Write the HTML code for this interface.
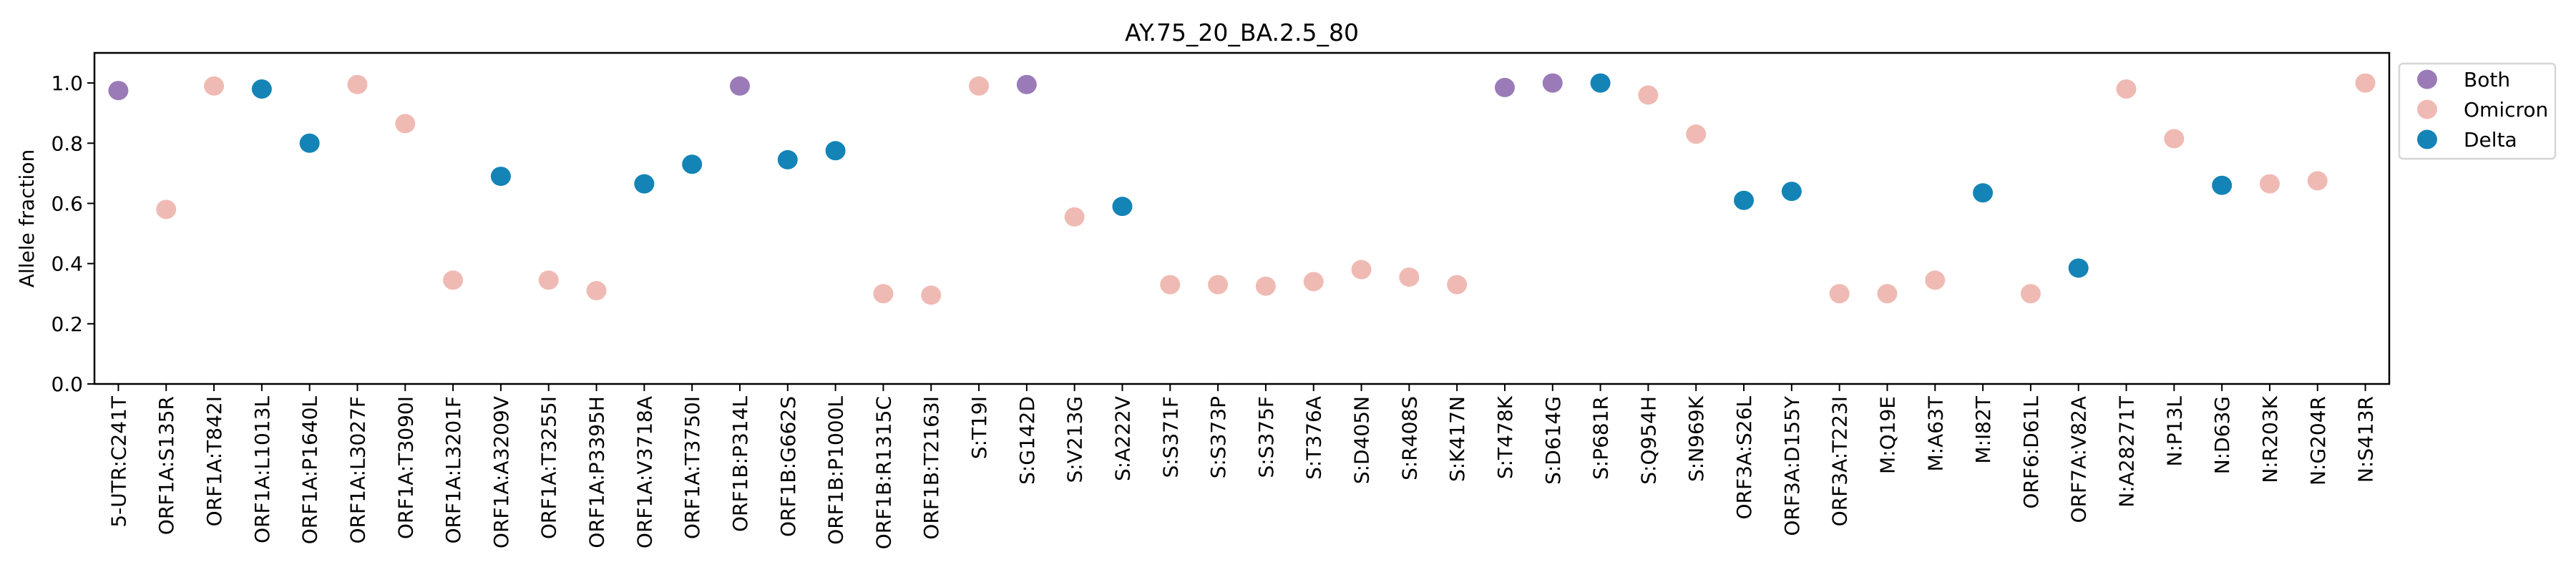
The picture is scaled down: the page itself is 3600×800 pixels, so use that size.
<!DOCTYPE html>
<html><head><meta charset="utf-8">
<style>html,body{margin:0;padding:0;background:#fff;}svg{display:block;font-family:"DejaVu Sans","Liberation Sans",sans-serif;}</style>
</head><body>
<svg id="chart" width="3600" height="800" viewBox="0 0 3600 800" xmlns="http://www.w3.org/2000/svg"></svg>
<script>
const categories = ["5-UTR:C241T","ORF1A:S135R","ORF1A:T842I","ORF1A:L1013L","ORF1A:P1640L","ORF1A:L3027F","ORF1A:T3090I","ORF1A:L3201F","ORF1A:A3209V","ORF1A:T3255I","ORF1A:P3395H","ORF1A:V3718A","ORF1A:T3750I","ORF1B:P314L","ORF1B:G662S","ORF1B:P1000L","ORF1B:R1315C","ORF1B:T2163I","S:T19I","S:G142D","S:V213G","S:A222V","S:S371F","S:S373P","S:S375F","S:T376A","S:D405N","S:R408S","S:K417N","S:T478K","S:D614G","S:P681R","S:Q954H","S:N969K","ORF3A:S26L","ORF3A:D155Y","ORF3A:T223I","M:Q19E","M:A63T","M:I82T","ORF6:D61L","ORF7A:V82A","N:A28271T","N:P13L","N:D63G","N:R203K","N:G204R","N:S413R"];
const values = [0.975,0.58,0.99,0.98,0.80,0.995,0.865,0.345,0.69,0.345,0.31,0.665,0.73,0.99,0.745,0.775,0.30,0.295,0.99,0.995,0.555,0.59,0.33,0.33,0.325,0.34,0.38,0.355,0.33,0.985,1.0,1.0,0.96,0.83,0.61,0.64,0.30,0.30,0.345,0.635,0.30,0.385,0.98,0.815,0.66,0.665,0.675,1.0];
const groups = ["Both","Omicron","Omicron","Delta","Delta","Omicron","Omicron","Omicron","Delta","Omicron","Omicron","Delta","Delta","Both","Delta","Delta","Omicron","Omicron","Omicron","Both","Omicron","Delta","Omicron","Omicron","Omicron","Omicron","Omicron","Omicron","Omicron","Both","Both","Delta","Omicron","Omicron","Delta","Delta","Omicron","Omicron","Omicron","Delta","Omicron","Delta","Omicron","Omicron","Delta","Omicron","Omicron","Omicron"];
const yTicks = [0.0,0.2,0.4,0.6,0.8,1.0];
const legendLabels = ["Both","Omicron","Delta"];

const colors = {Both:"#9a7bb8",Omicron:"#f0bab4",Delta:"#1484b6"};
const L=132,R=3339,T=74,B=537;
const xs = i => L + (i+0.5)/categories.length*(R-L);
const ys = v => B - v/1.1*(B-T);
const svg=document.getElementById('chart');
const NS="http://www.w3.org/2000/svg";
function mk(tag,attrs,parent){const e=document.createElementNS(NS,tag);for(const k in attrs)e.setAttribute(k,attrs[k]);(parent||svg).appendChild(e);return e;}

const title=mk('text',{x:(L+R)/2,y:57,'text-anchor':'middle','font-size':33});


title.textContent="AY.75_20_BA.2.5_80";

const yt=mk('text',{x:0,y:0,'text-anchor':'middle','font-size':28,transform:`translate(47,${(T+B)/2}) rotate(-90)`});


yt.textContent="Allele fraction";

const yg=mk('g',{});


yTicks.forEach(v=>{
  mk('line',{x1:L-10,x2:L,y1:ys(v),y2:ys(v),stroke:'#000','stroke-width':2},yg);
  const t=mk('text',{x:L-16,y:ys(v)+10,'text-anchor':'end','font-size':28},yg);
  
  
  t.textContent=v.toFixed(1);
});

const xg=mk('g',{});


categories.forEach((c,i)=>{
  const x=xs(i);
  mk('line',{x1:x,x2:x,y1:B,y2:B+10,stroke:'#000','stroke-width':2},xg);
  const t=mk('text',{x:0,y:0,'text-anchor':'end','font-size':28,transform:`translate(${x+10},${B+17}) rotate(-90)`},xg);
  
  
  t.textContent=c;
});

const pg=mk('g',{});


values.forEach((v,i)=>{
  const c=mk('ellipse',{cx:xs(i),cy:ys(v),rx:14,ry:13.5,fill:colors[groups[i]]},pg);
  
  
});

const frame=mk('rect',{x:L,y:T,width:R-L,height:B-T,fill:'none',stroke:'#000','stroke-width':2.5});



const lg=mk('g',{});


mk('rect',{x:3353,y:89,width:218,height:133,rx:5,fill:'#fff',stroke:'#d6d6d6','stroke-width':2.5},lg);
legendLabels.forEach((l,k)=>{
  const y=111+k*42;
  const g=mk('g',{},lg);
  
  
  mk('ellipse',{cx:3392,cy:y,rx:14,ry:13.5,fill:colors[l]},g);
  const t=mk('text',{x:3443,y:y+10,'font-size':28},g);
  t.textContent=l;
});
</script>
</body></html>
